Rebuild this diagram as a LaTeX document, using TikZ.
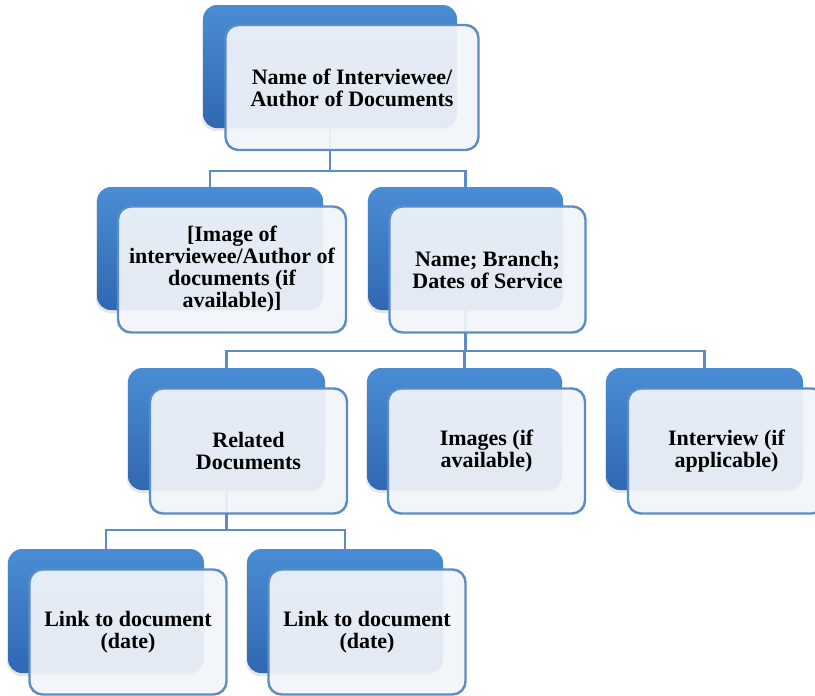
\documentclass[tikz,border=0pt]{standalone}
\usepackage{fontspec}
\setmainfont{Liberation Serif}
\usetikzlibrary{calc,shadows}

\definecolor{boxblue}{HTML}{4A8DD4}
\definecolor{boxdark}{HTML}{3068B2}
\definecolor{edgeblue}{HTML}{5B8CC6}
\definecolor{paleface}{HTML}{F1F4F9}

\tikzset{
  backbox/.style={rectangle, rounded corners=14pt, inner sep=0pt,
    top color=boxblue, bottom color=boxdark, draw=none,
    drop shadow={opacity=0.2, shadow xshift=-1pt, shadow yshift=-3pt}},
  frontbox/.style={rectangle, rounded corners=13pt, inner sep=0pt,
    fill=paleface, fill opacity=0.93, text opacity=1, draw=edgeblue,
    line width=2.4pt, align=center,
    font=\fontsize{22}{22}\selectfont\bfseries},
  link/.style={draw=edgeblue, line width=2.2pt}
}

\begin{document}
\begin{tikzpicture}[x=1pt,y=-1pt]
    \useasboundingbox (0,0) rectangle (815,696);

    % Back boxes
    \node[backbox, minimum width=254pt, minimum height=123pt] (bRoot) at (330,66.5) {};
    \node[backbox, minimum width=226pt, minimum height=123pt] (bImage) at (210,248.5) {};
    \node[backbox, minimum width=195pt, minimum height=123pt] (bName) at (465.5,248.5) {};
    \node[backbox, minimum width=197pt, minimum height=122pt] (bRelated) at (226.5,429) {};
    \node[backbox, minimum width=195pt, minimum height=122pt] (bImages) at (464.5,429) {};
    \node[backbox, minimum width=197pt, minimum height=122pt] (bInterview) at (704.5,429) {};
    \node[backbox, minimum width=196pt, minimum height=124pt] (bLinkA) at (106,611) {};
    \node[backbox, minimum width=196pt, minimum height=124pt] (bLinkB) at (345,611) {};

    % Connectors, from back box to back box
    \draw[link] (bRoot.south) -- ++(0,43) -| (bImage.north);
    \draw[link] (bRoot.south) -- ++(0,43) -| (bName.north);
    \draw[link] (bName.south) -- ++(0,41) -| (bRelated.north);
    \draw[link] (bName.south) -- ++(0,41) -| (bImages.north);
    \draw[link] (bName.south) -- ++(0,41) -| (bInterview.north);
    \draw[link] (bRelated.south) -- ++(0,40) -| (bLinkA.north);
    \draw[link] (bRelated.south) -- ++(0,40) -| (bLinkB.north);

    % Front boxes with the texts, shifted down and to the right
    \node[frontbox, minimum width=253pt, minimum height=125pt] (nRoot) at ($(bRoot)+(22,21)$)
        {Name of Interviewee/\\Author of Documents};
    \node[frontbox, minimum width=228pt, minimum height=126pt] (nImage) at ($(bImage)+(22,21)$)
        {[Image of\\interviewee/Author of\\documents (if\\available)]};
    \node[frontbox, minimum width=196pt, minimum height=126pt] (nName) at ($(bName)+(22,21)$)
        {Name; Branch;\\Dates of Service};
    \node[frontbox, minimum width=197pt, minimum height=125pt] (nRelated) at ($(bRelated)+(22,22)$)
        {Related\\Documents};
    \node[frontbox, minimum width=197pt, minimum height=125pt] (nImages) at ($(bImages)+(22,22)$)
        {Images (if\\available)};
    \node[frontbox, minimum width=197pt, minimum height=125pt] (nInterview) at ($(bInterview)+(22,22)$)
        {Interview (if\\applicable)};
    \node[frontbox, minimum width=197pt, minimum height=125pt] (nLinkA) at ($(bLinkA)+(22,21)$)
        {Link to document\\(date)};
    \node[frontbox, minimum width=197pt, minimum height=125pt] (nLinkB) at ($(bLinkB)+(22,21)$)
        {Link to document\\(date)};

\end{tikzpicture}
\end{document}
